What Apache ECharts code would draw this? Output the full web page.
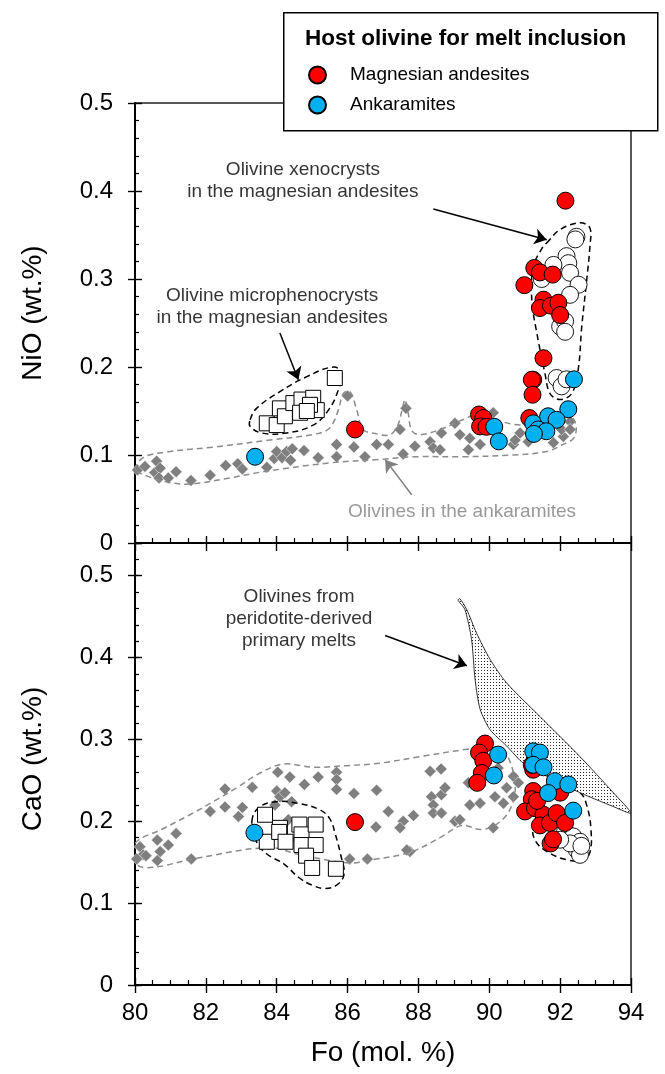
<!DOCTYPE html>
<html>
<head>
<meta charset="utf-8">
<script src="https://cdn.jsdelivr.net/npm/echarts@6/dist/echarts.min.js"></script>
<style>
html,body{margin:0;padding:0;background:#fff;}
#chart{width:665px;height:1074px;}
</style>
</head>
<body>
<div id="chart"></div>
<script>
// ---------- data (Fo mol.%, oxide wt.%) ----------
const xLabelTicks = [80, 82, 84, 86, 88, 90, 92, 94];
const legendNames = ['Magnesian andesites', 'Ankaramites'];

// gray diamonds: olivines in the ankaramites
const ankOlivineNiO = [[80.07,0.083],[80.28,0.087],[80.61,0.093],[80.56,0.080],[80.71,0.085],[80.68,0.074],[80.94,0.074],[81.16,0.081],[81.58,0.071],[82.12,0.077],[82.56,0.088],[82.90,0.090],[83.03,0.084],[83.72,0.086],[83.93,0.096],[84.0,0.104],[84.15,0.097],[84.28,0.104],[84.39,0.094],[84.44,0.107],[84.77,0.105],[85.17,0.097],[85.69,0.112],[85.69,0.098],[86.0,0.167],[86.18,0.109],[86.49,0.098],[86.82,0.112],[87.15,0.112],[87.48,0.129],[87.57,0.101],[87.65,0.153],[87.90,0.110],[88.33,0.115],[88.42,0.108],[88.65,0.125],[88.61,0.106],[89.03,0.136],[89.17,0.123],[89.41,0.106],[89.45,0.119],[89.74,0.112],[90.11,0.148],[90.68,0.112],[90.73,0.117],[90.87,0.125],[91.1,0.115],[91.81,0.114],[92.09,0.121],[92.28,0.138],[92.04,0.129],[92.28,0.129]];
const ankOlivineCaO = [[84.03,0.260],[84.37,0.254],[85.17,0.254],[85.69,0.260],[85.69,0.251],[85.69,0.239],[84.78,0.245],[84.0,0.237],[84.09,0.230],[84.23,0.235],[83.31,0.2415],[82.54,0.2395],[82.54,0.2175],[83.03,0.217],[82.92,0.206],[82.12,0.212],[83.95,0.220],[84.42,0.224],[84.33,0.202],[86.18,0.234],[86.82,0.238],[86.80,0.193],[81.16,0.185],[80.94,0.171],[80.63,0.177],[80.71,0.163],[80.14,0.169],[80.23,0.159],[80.05,0.154],[80.31,0.158],[80.63,0.152],[81.59,0.154],[86.06,0.154],[86.56,0.154],[87.76,0.163],[88.33,0.261],[88.64,0.264],[87.15,0.212],[87.57,0.200],[87.48,0.192],[87.86,0.207],[88.37,0.230],[88.65,0.2325],[88.75,0.241],[88.42,0.220],[88.42,0.210],[88.65,0.210],[89.03,0.200],[89.17,0.202],[87.67,0.165],[89.45,0.220],[89.74,0.222],[90.16,0.230],[90.40,0.222],[90.11,0.192],[90.49,0.241],[90.68,0.255],[90.68,0.230],[90.25,0.265],[89.41,0.247],[90.82,0.247],[91.76,0.277]];

// open squares: olivine microphenocrysts
const microNiO = [[85.64,0.1875],[83.72,0.136],[84.0,0.134],[84.09,0.153],[84.23,0.144],[84.47,0.159],[84.70,0.163],[84.66,0.148],[85.03,0.165],[85.13,0.151],[84.94,0.157],[84.85,0.150]];
const microCaO = [[83.67,0.208],[83.72,0.175],[84.09,0.192],[84.07,0.187],[84.25,0.175],[84.64,0.196],[84.70,0.184],[84.70,0.171],[85.10,0.196],[85.10,0.171],[84.83,0.158],[85.0,0.143],[85.67,0.142]];

// open circles: olivine xenocrysts
const xenoNiO = [[92.46,0.348],[92.43,0.345],[92.18,0.326],[92.23,0.318],[91.81,0.316],[92.28,0.307],[92.52,0.2935],[91.48,0.300],[92.28,0.282],[92.0,0.246],[92.14,0.252],[92.14,0.240],[91.90,0.1875],[92.04,0.178],[92.18,0.186]];
const xenoCaO = [[92.14,0.188],[92.37,0.1815],[92.56,0.175],[92.47,0.165],[92.56,0.159],[92.28,0.173],[92.0,0.1775],[92.6,0.170]];

// host olivines for melt inclusions
const magNiO = [[92.15,0.389],[91.27,0.3125],[91.43,0.3075],[91.79,0.305],[90.99,0.293],[91.53,0.2765],[91.43,0.267],[91.74,0.2697],[91.95,0.273],[92.0,0.259],[91.53,0.210],[91.24,0.1855],[91.2,0.1855],[91.22,0.1685],[91.13,0.142],[89.71,0.146],[89.83,0.142],[89.74,0.1325],[89.92,0.132],[86.21,0.129]];
const ankNiO = [[83.39,0.098],[92.39,0.186],[92.23,0.152],[90.14,0.132],[90.27,0.1155],[91.24,0.136],[91.66,0.144],[91.90,0.140],[91.38,0.129],[91.61,0.127],[91.26,0.124]];
const magCaO = [[86.21,0.199],[89.88,0.295],[89.71,0.284],[89.83,0.274],[89.79,0.259],[89.66,0.247],[91.24,0.237],[91.2,0.227],[91.24,0.263],[91.2,0.269],[91.01,0.212],[91.29,0.216],[91.53,0.208],[91.43,0.195],[91.71,0.198],[91.90,0.210],[92.14,0.198],[92.0,0.235],[91.73,0.173],[91.8,0.178],[91.35,0.225]];
const ankCaO = [[83.37,0.186],[90.25,0.2815],[90.13,0.256],[91.24,0.2855],[91.43,0.284],[91.24,0.269],[91.53,0.266],[91.85,0.249],[92.23,0.245],[91.66,0.2345],[92.37,0.213]];

// field outlines
const fieldAnkNiO = [[80.0,0.083],[80.23,0.097],[80.80,0.103],[82.21,0.109],[83.81,0.117],[85.13,0.124],[85.50,0.131],[85.74,0.151],[85.88,0.170],[86.07,0.172],[86.26,0.151],[86.44,0.129],[86.82,0.124],[87.20,0.123],[87.42,0.134],[87.57,0.157],[87.62,0.163],[87.71,0.148],[87.81,0.128],[88.04,0.123],[88.61,0.129],[89.36,0.142],[89.74,0.148],[90.2,0.140],[90.87,0.134],[91.6,0.139],[92.28,0.144],[92.45,0.133],[92.38,0.119],[92.08,0.112],[91.62,0.104],[90.67,0.100],[89.27,0.098],[87.85,0.098],[86.91,0.095],[85.50,0.091],[83.62,0.081],[82.68,0.074],[81.55,0.067],[80.80,0.070],[80.23,0.078]];
const fieldMicroNiO = [[83.25,0.140],[83.43,0.153],[84.09,0.172],[84.85,0.189],[85.60,0.200],[85.83,0.193],[85.74,0.174],[85.46,0.151],[85.03,0.134],[84.28,0.125],[83.58,0.125],[83.25,0.1325]];
const fieldXenoNiO = [[91.62,0.341],[91.99,0.356],[92.56,0.364],[92.84,0.358],[92.84,0.337],[92.75,0.299],[92.61,0.246],[92.51,0.197],[92.33,0.170],[91.99,0.163],[91.71,0.170],[91.57,0.193],[91.34,0.239],[91.20,0.276],[91.24,0.314],[91.52,0.337]];
const fieldAnkCaO = [[80.0,0.173],[80.75,0.190],[81.55,0.208],[82.21,0.224],[82.87,0.241],[83.53,0.259],[84.19,0.270],[85.03,0.266],[85.98,0.268],[86.91,0.271],[88.04,0.279],[89.37,0.288],[90.02,0.290],[90.44,0.285],[90.73,0.245],[90.58,0.214],[90.16,0.195],[89.74,0.190],[89.23,0.195],[88.61,0.180],[87.76,0.162],[86.69,0.153],[86.07,0.149],[84.66,0.159],[83.78,0.168],[81.64,0.154],[80.56,0.144],[80.06,0.147]];
const fieldMicroCaO = [[83.30,0.200],[83.50,0.217],[84.0,0.224],[84.6,0.222],[85.22,0.214],[85.5,0.203],[85.65,0.185],[85.8,0.160],[85.9,0.135],[85.69,0.122],[85.36,0.118],[85.0,0.122],[84.63,0.131],[84.2,0.148],[83.72,0.160],[83.43,0.175]];
const fieldXenoCaO = [[92.56,0.235],[92.76,0.218],[92.87,0.190],[92.84,0.162],[92.64,0.153],[92.19,0.153],[91.63,0.163],[91.29,0.177],[91.25,0.195],[91.6,0.222],[92.1,0.240]];
const fieldPeridotite = [[89.17,0.472],[89.36,0.459],[89.64,0.430],[90.02,0.398],[90.49,0.369],[91.43,0.328],[92.56,0.279],[93.50,0.235],[94.0,0.210],[93.50,0.218],[92.56,0.235],[91.62,0.255],[90.96,0.271],[90.49,0.292],[90.02,0.312],[89.74,0.337],[89.60,0.373],[89.50,0.422],[89.31,0.459],[89.12,0.470]];

// annotations
const notesTop = [
  {name:'Olivine xenocrysts\nin the magnesian andesites', value:[84.74,0.4117]},
  {name:'Olivine microphenocrysts\nin the magnesian andesites', value:[83.87,0.2685]}
];
const notesTopGray = [{name:'Olivines in the ankaramites', value:[89.23,0.0356]}];
const notesBottom = [{name:'Olivines from\nperidotite-derived\nprimary melts', value:[84.63,0.448]}];
const arrowsTop = [[[88.42,0.3795],[91.62,0.3447]], [[84.09,0.2386],[84.61,0.1856]]];
const arrowsTopGray = [[[87.81,0.0549],[87.06,0.0947]]];
const arrowsBottom = [[[87.06,0.427],[89.37,0.390]]];

// ---------- chart ----------
const FONT = '"Liberation Sans", Arial, Helvetica, sans-serif';
const chart = echarts.init(document.getElementById('chart'), null, {renderer:'canvas'});

const pc = document.createElement('canvas');
pc.width = 3; pc.height = 3;
const g = pc.getContext('2d');
g.fillStyle = '#fff'; g.fillRect(0,0,3,3);
g.fillStyle = '#2a2a2a'; g.fillRect(1,1,1,1);

const AX = '#000';
function xAx(grid, inside, labels) {
  const a = {
    gridIndex:grid, type:'value', min:80, max:94, interval:2, position:'bottom',
    axisLine:{show:inside, onZero:false, lineStyle:{color:AX, width:2}},
    axisTick:{show:true, inside:inside, length:inside?7:8, lineStyle:{color:AX, width:1.4}},
    minorTick:{show:inside, splitNumber:4, length:5, lineStyle:{color:AX, width:1.2}},
    axisLabel:{show:labels, fontSize:24, color:'#000', fontFamily:FONT, margin:16,
      customValues: xLabelTicks},
    splitLine:{show:false}, minorSplitLine:{show:false}
  };
  if (labels) {
    a.name = 'Fo (mol. %)'; a.nameLocation = 'middle'; a.nameGap = 54;
    a.nameTextStyle = {fontSize:28, color:'#000', fontFamily:FONT};
  }
  return a;
}
function yAx(grid, max, interval, mode, name) {
  // mode: 'out' (line, outside ticks, labels), 'in' (inside major), 'minor'
  const a = {
    gridIndex:grid, type:'value', min:0, max:max, interval:interval, position:'left',
    axisLine:{show:mode==='out', onZero:false, lineStyle:{color:AX, width:2}},
    axisTick:{show:true, inside:mode!=='out', length:mode==='minor'?4:7, lineStyle:{color:AX, width:mode==='minor'?1.2:1.4}},
    axisLabel:{show:mode==='out', fontSize:24, color:'#000', fontFamily:FONT, margin:22, showMaxLabel: max===0.5},
    splitLine:{show:false}
  };
  if (name) {
    a.name = name; a.nameLocation = 'middle'; a.nameGap = 88; a.nameRotate = 90;
    a.nameTextStyle = {fontSize:28, color:'#000', fontFamily:FONT, padding: grid===0?[0,0,0,20]:[0,0,0,10]};
  }
  return a;
}

function field(pts, xi, yi, style, smooth, z) {
  return {
    type:'custom', coordinateSystem:'cartesian2d', xAxisIndex:xi, yAxisIndex:yi,
    data:[[pts[0][0], pts[0][1]]], silent:true, z:z, clip:true,
    renderItem:function(params, api){
      return {type:'polygon', shape:{points: pts.map(p=>api.coord(p)), smooth:smooth}, style:style};
    }
  };
}
function scat(data, xi, yi, name, symbol, size, color, border, bw, z) {
  return {type:'scatter', name:name, xAxisIndex:xi, yAxisIndex:yi, data:data, symbol:symbol, symbolSize:size,
    itemStyle:{color:color, borderColor:border, borderWidth:bw, opacity:1}, silent:true, z:z};
}
function notes(data, xi, yi, color, arrows) {
  return {type:'scatter', xAxisIndex:xi, yAxisIndex:yi, data:data, symbolSize:1,
    itemStyle:{color:'rgba(0,0,0,0)'}, silent:true, z:9,
    label:{show:true, position:'inside', formatter:p=>p.name, fontSize:19, lineHeight:22, color:color, fontFamily:FONT, align:'center'},
    markLine:{silent:true, symbol:['none','arrow'], symbolSize:12, label:{show:false},
      itemStyle:{color:color},
      lineStyle:{color:color, width:1.5, type:'solid'},
      emphasis:{disabled:true},
      data: arrows.map(a=>[{coord:a[0], itemStyle:{color:color}},{coord:a[1], itemStyle:{color:color}}])}
  };
}
const dashBlack = {fill:'none', stroke:'#000', lineWidth:1.5, lineDash:[6,4]};
const dashGray = {fill:'none', stroke:'#8c8c8c', lineWidth:1.5, lineDash:[6,4]};

const option = {
  animation:false,
  backgroundColor:'#fff',
  textStyle:{fontFamily:FONT},
  grid:[
    {left:135, top:103, width:496, height:440, show:true, borderColor:'#222', borderWidth:1.5, backgroundColor:'transparent'},
    {left:135, top:543, width:496, height:442, show:true, borderColor:'#222', borderWidth:1.5, backgroundColor:'transparent'}
  ],
  xAxis:[xAx(0,true,false), xAx(0,false,false), xAx(1,true,false), xAx(1,false,true)],
  yAxis:[
    yAx(0,0.5,0.1,'out','NiO (wt.%)'),
    Object.assign(yAx(0,0.5,0.1,'in'), {minorTick:{show:true, splitNumber:5, length:4, lineStyle:{color:AX, width:1.2}}}),
    yAx(1,0.54,0.1,'out','CaO (wt.%)'),
    yAx(1,0.54,0.1,'in'),
    yAx(1,0.54,0.02,'minor')
  ],
  legend:{
    data:legendNames, orient:'vertical', left:308, top:65, padding:0,
    itemWidth:17, itemHeight:17, itemGap:10, icon:'circle', selectedMode:false, z:30,
    textStyle:{fontSize:19, color:'#000', fontFamily:FONT, padding:[0,0,0,19], lineHeight:20}
  },
  graphic:[
    {type:'rect', left:283, top:12, z:25, silent:true, shape:{width:374, height:118},
      style:{fill:'#fff', stroke:'#000', lineWidth:1.5}},
    {type:'text', left:305, top:27, z:30, silent:true,
      style:{text:'Host olivine for melt inclusion', font:'bold 22.5px '+FONT, fill:'#000'}}
  ],
  series:[
    scat(ankOlivineNiO,0,0,'Olivines in the ankaramites','diamond',12,'#7f7f7f','#fff',0.5,2),
    scat(ankOlivineCaO,2,2,'Olivines in the ankaramites','diamond',12,'#7f7f7f','#fff',0.5,2),
    field(fieldAnkNiO,0,0,dashGray,0.35,3),
    field(fieldAnkCaO,2,2,dashGray,0.35,3),
    field(fieldMicroNiO,0,0,dashBlack,0.4,3),
    field(fieldMicroCaO,2,2,dashBlack,0.4,3),
    field(fieldXenoNiO,0,0,dashBlack,0.35,3),
    field(fieldXenoCaO,2,2,dashBlack,0.4,3),
    field(fieldPeridotite,2,2,{fill:{image:pc, repeat:'repeat'}, stroke:'#000', lineWidth:0.8},0.25,3),
    scat(microNiO,0,0,'Olivine microphenocrysts','rect',15,'#fff','#000',1,4),
    scat(microCaO,2,2,'Olivine microphenocrysts','rect',15,'#fff','#000',1,4),
    scat(xenoNiO,0,0,'Olivine xenocrysts','circle',17,'#fff','#000',0.9,5),
    scat(xenoCaO,2,2,'Olivine xenocrysts','circle',17,'#fff','#000',0.9,5),
    scat(magNiO,0,0,legendNames[0],'circle',17,'#ff0000','#000',1,6),
    scat(magCaO,2,2,legendNames[0],'circle',17,'#ff0000','#000',1,6),
    scat(ankNiO,0,0,legendNames[1],'circle',17,'#00b0f0','#000',1,7),
    scat(ankCaO,2,2,legendNames[1],'circle',17,'#00b0f0','#000',1,7),
    notes(notesTop,0,0,'#000',arrowsTop),
    notes(notesTopGray,0,0,'#808080',arrowsTopGray),
    notes(notesBottom,2,2,'#000',arrowsBottom)
  ]
};
chart.setOption(option);
</script>
</body>
</html>
